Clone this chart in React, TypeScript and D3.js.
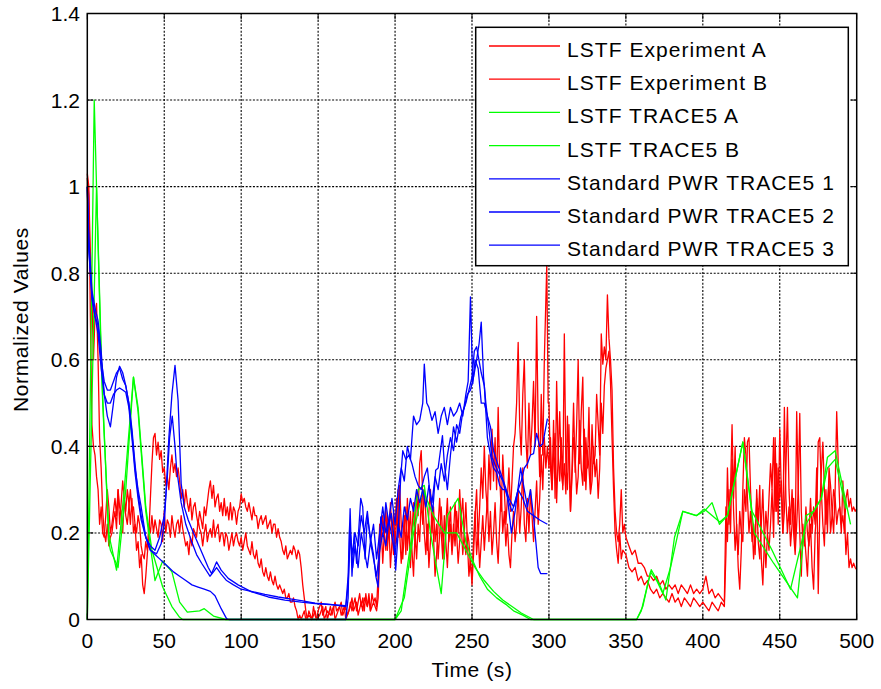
import React from "react";
import * as d3 from "d3";

const W = 881;
const H = 689;

const xTicks = [0, 50, 100, 150, 200, 250, 300, 350, 400, 450, 500];
const yTicks = [0, 0.2, 0.4, 0.6, 0.8, 1, 1.2, 1.4];
const yTickLabels = ["0", "0.2", "0.4", "0.6", "0.8", "1", "1.2", "1.4"];
const seriesNames = [
  "LSTF Experiment A",
  "LSTF Experiment B",
  "LSTF TRACE5 A",
  "LSTF TRACE5 B",
  "Standard PWR TRACE5 1",
  "Standard PWR TRACE5 2",
  "Standard PWR TRACE5 3",
];
const seriesColors = ["#ff0000", "#ff0000", "#00ff00", "#00ff00", "#0000ff", "#0000ff", "#0000ff"];

type P = [number, number];

const expA: P[] = [
  [0,1.03],[1,1.0],[2,0.7],[3,0.45],[4,0.4],[5,0.38],[6,0.33],[7,0.3],[8,0.22],[9,0.26],[10,0.2],[11,0.19],[12,0.24],[13,0.3],[14,0.26],[15,0.2],[16,0.22],[17,0.25],[18,0.28],[19,0.24],[20,0.3],[21,0.22],[22,0.27],[23,0.32],[24,0.28],[25,0.25],[26,0.3],[27,0.27],[28,0.22],[29,0.28],[30,0.2],[31,0.22],[32,0.16],[33,0.18],[34,0.12],[35,0.15],[36,0.08],[37,0.06],[38,0.1],[39,0.15],[40,0.2],[41,0.28],[42,0.36],[43,0.42],[44,0.43],[45,0.38],[46,0.41],[47,0.37],[48,0.39],[49,0.34],[50,0.35],[51,0.31],[52,0.33],[53,0.3],[54,0.35],[55,0.38],[56,0.34],[57,0.36],[58,0.33],[59,0.35],[60,0.32],[61,0.28],[62,0.3],[63,0.26],[64,0.3],[65,0.27],[66,0.25],[67,0.28],[68,0.23],[69,0.26],[70,0.27],[71,0.24],[72,0.22],[73,0.25],[74,0.23],[75,0.21],[76,0.26],[77,0.24],[78,0.27],[79,0.3],[80,0.32],[81,0.28],[82,0.31],[83,0.26],[84,0.28],[85,0.29],[86,0.25],[87,0.27],[88,0.24],[89,0.28],[90,0.24],[91,0.26],[92,0.23],[93,0.27],[94,0.23],[95,0.26],[96,0.25],[97,0.22],[98,0.25],[99,0.26],[100,0.29],[101,0.27],[102,0.28],[103,0.26],[104,0.25],[105,0.27],[106,0.25],[107,0.23],[108,0.26],[109,0.24],[110,0.24],[111,0.21],[112,0.23],[113,0.24],[114,0.22],[115,0.23],[116,0.24],[117,0.21],[118,0.22],[119,0.23],[120,0.2],[121,0.22],[122,0.22],[123,0.19],[124,0.21],[125,0.19],[126,0.18],[127,0.16],[128,0.15],[129,0.17],[130,0.14],[131,0.15],[132,0.16],[133,0.15],[134,0.17],[135,0.16],[136,0.14],[137,0.16],[138,0.15],[139,0.12],[140,0.08],[141,0.05],[142,0.02],[143,0.0],[144,0.02],[145,0.01],[146,0.0],[147,0.03],[148,0.01],[149,0.0],[150,0.02],[152,0.04],[153,0.01],[155,0.03],[156,0.0],[158,0.03],[159,0.01],[161,0.04],[162,0.02],[164,0.03],[165,0.01],[167,0.03],[168,0.0],[170,0.02],[171,0.04],[172,0.02],[174,0.05],[175,0.02],[176,0.04],[177,0.06],[178,0.03],[179,0.05],[180,0.02],[181,0.06],[182,0.03],[183,0.05],[184,0.02],[185,0.06],[186,0.04],[187,0.05],[188,0.03],[189,0.1],
  [190,0.22],[191,0.18],[192,0.24],[193,0.2],[194,0.16],[195,0.24],[196,0.19],[197,0.27],[198,0.2],[199,0.15],[200,0.22],[201,0.28],[202,0.19],[203,0.31],[204,0.22],[205,0.14],[206,0.2],[207,0.26],[208,0.16],[209,0.22],[210,0.12],[211,0.2],[212,0.27],[213,0.18],[214,0.3],[215,0.24],[216,0.36],[217,0.39],[218,0.28],[219,0.2],[220,0.15],[221,0.22],[222,0.12],[223,0.18],[224,0.25],[225,0.19],[226,0.1],[227,0.15],[228,0.22],[229,0.28],[230,0.2],[231,0.14],[232,0.24],[233,0.18],[234,0.12],[235,0.2],[236,0.26],[237,0.16],[238,0.22],[239,0.17],[240,0.25],[241,0.2],[242,0.3],[243,0.22],[244,0.15],[245,0.2],[246,0.27],[247,0.18],[248,0.1],[249,0.14],[250,0.08],[251,0.15],[252,0.24],[253,0.3],[254,0.18],[255,0.26],[256,0.35],[257,0.28],[258,0.4],[259,0.3],[260,0.25],[261,0.38],[262,0.3],[263,0.44],[264,0.32],[265,0.42],[266,0.3],[267,0.49],[268,0.33],[269,0.25],[270,0.38],[271,0.3],[272,0.22],[273,0.28],[274,0.35],[275,0.25],[276,0.32],[277,0.4],[278,0.43],[279,0.5],[280,0.64],[281,0.45],[282,0.38],[283,0.52],[284,0.6],[285,0.42],[286,0.35],[287,0.5],[288,0.38],[289,0.45],[290,0.55],[291,0.4],[292,0.7],[293,0.45],[294,0.33],[295,0.52],[296,0.38],[297,0.6],[298.6,0.82],[299.5,0.5],
  [300,0.5],[301,0.35],[302,0.3],[303,0.46],[304,0.28],[305,0.55],[306,0.38],[307,0.32],[308,0.42],[309,0.3],[310,0.66],[311,0.36],[312,0.3],[313,0.45],[314,0.25],[315,0.35],[316,0.5],[317,0.34],[318,0.45],[319,0.6],[320,0.36],[321,0.48],[322,0.56],[323,0.32],[324,0.42],[325,0.35],[326,0.49],[327,0.3],[328,0.45],[329,0.36],[330,0.38],[331,0.52],[332,0.45],[333,0.38],[334,0.66],[335,0.59],[336,0.63],[337,0.6],[338,0.75],[339,0.65],[340,0.6],[341,0.53],[342,0.35],[343,0.25],[344,0.2],[345,0.18],[346,0.22],[347,0.3],[348,0.2],[349,0.22],[350,0.19],[352,0.17],[354,0.15],[356,0.16],[358,0.13],[360,0.13],[362,0.12],[364,0.1],[366,0.1],[368,0.09],[370,0.1],[372,0.08],[374,0.09],[376,0.07],[378,0.08],[380,0.07],[382,0.08],[384,0.06],[386,0.08],[388,0.07],[390,0.06],[392,0.08],[394,0.06],[396,0.07],[398,0.06],[400,0.07],[402,0.1],[404,0.06],[406,0.07],[408,0.05],[410,0.06],[412,0.05],[414,0.04],
  [415,0.26],[416,0.18],[417,0.3],[418,0.2],[419,0.37],[420,0.25],[421,0.16],[422,0.22],[423,0.12],[424,0.07],[425,0.16],[426,0.3],[427,0.42],[428,0.38],[429,0.28],[430,0.2],[431,0.25],[432,0.18],[433,0.22],[434,0.15],[435,0.3],[436,0.22],[437,0.31],[438,0.14],[439,0.08],[440,0.18],[441,0.25],[442,0.2],[443,0.28],[444,0.36],[445,0.3],[446,0.42],[447,0.25],[448,0.36],[449,0.22],[450,0.44],[451,0.3],[452,0.2],[453,0.49],[454,0.28],[455,0.2],[456,0.26],[457,0.17],[458,0.22],[459,0.28],[460,0.17],[461,0.48],[462,0.3],[463,0.2],[464,0.1],[465,0.22],[466,0.17],[467,0.26],[468,0.2],[469,0.17],[470,0.22],[471,0.12],[472,0.07],[473,0.2],[474,0.25],[475,0.41],[476,0.42],[477,0.3],[478,0.22],[479,0.17],[480,0.3],[481,0.2],[482,0.35],[483,0.31],[484,0.25],[485,0.2],[486,0.3],[487,0.48],[488,0.36],[489,0.26],[490,0.2],[491,0.32],[492,0.25],[493,0.15],[494,0.2],[495,0.12],[496,0.14],[497,0.12],[498,0.13],[499,0.12],[500,0.115],
];

const expB: P[] = [
  [0,1.02],[1,0.98],[2,0.85],[3,0.75],[4,0.6],[5,0.7],[6,0.73],[7,0.6],[8,0.42],[9,0.35],[10,0.25],[11,0.2],[12,0.18],[13,0.22],[14,0.17],[15,0.19],[16,0.2],[17,0.23],[18,0.25],[19,0.21],[20,0.3],[21,0.26],[22,0.25],[23,0.2],[24,0.28],[25,0.24],[26,0.22],[27,0.26],[28,0.3],[29,0.25],[30,0.26],[31,0.22],[32,0.2],[33,0.24],[34,0.22],[35,0.17],[36,0.15],[37,0.14],[38,0.18],[39,0.16],[40,0.22],[41,0.2],[42,0.24],[43,0.2],[44,0.23],[45,0.21],[46,0.19],[47,0.23],[48,0.22],[49,0.18],[50,0.25],[51,0.2],[52,0.23],[53,0.22],[54,0.19],[55,0.24],[56,0.21],[57,0.19],[58,0.22],[59,0.23],[60,0.2],[61,0.24],[62,0.21],[63,0.19],[64,0.17],[65,0.18],[66,0.15],[67,0.19],[68,0.17],[69,0.21],[70,0.2],[71,0.19],[72,0.23],[73,0.21],[74,0.2],[75,0.17],[76,0.2],[77,0.22],[78,0.18],[79,0.2],[80,0.21],[81,0.19],[82,0.23],[83,0.19],[84,0.21],[85,0.22],[86,0.18],[87,0.2],[88,0.2],[89,0.17],[90,0.2],[91,0.19],[92,0.16],[93,0.18],[94,0.2],[95,0.17],[96,0.19],[97,0.2],[98,0.18],[99,0.17],[100,0.19],[101,0.16],[102,0.18],[103,0.2],[104,0.17],[105,0.16],[106,0.15],[107,0.18],[108,0.15],[109,0.14],[110,0.16],[111,0.13],[112,0.12],[113,0.14],[114,0.11],[115,0.1],[116,0.12],[117,0.1],[118,0.09],[119,0.11],[120,0.09],[121,0.08],[122,0.1],[123,0.08],[124,0.07],[125,0.08],[126,0.07],[127,0.06],[128,0.07],[129,0.05],[130,0.05],[131,0.06],[132,0.04],[133,0.04],[134,0.05],[135,0.03],[136,0.02],[137,0.0],[138,0.01],[139,0.0],[141,0.02],[142,0.0],[144,0.01],[146,0.0],[148,0.02],[149,0.0],[151,0.01],[153,0.03],[154,0.0],[156,0.02],[158,0.01],[160,0.03],[161,0.0],[163,0.02],[165,0.04],[166,0.01],[168,0.03],[169,0.01],[171,0.03],[172,0.05],[173,0.02],[175,0.04],[176,0.01],[178,0.04],[179,0.02],[180,0.05],[182,0.03],[183,0.06],[184,0.02],[186,0.04],[187,0.03],[188,0.02],[189,0.05],
  [190,0.15],[191,0.22],[192,0.13],[193,0.2],[194,0.26],[195,0.16],[196,0.22],[197,0.12],[198,0.18],[199,0.25],[200,0.17],[201,0.23],[202,0.3],[203,0.2],[204,0.13],[205,0.18],[206,0.24],[207,0.15],[208,0.28],[209,0.2],[210,0.25],[211,0.16],[212,0.1],[213,0.2],[214,0.14],[215,0.22],[216,0.18],[217,0.28],[218,0.22],[219,0.3],[220,0.24],[221,0.16],[222,0.25],[223,0.3],[224,0.2],[225,0.26],[226,0.18],[227,0.22],[228,0.14],[229,0.2],[230,0.26],[231,0.19],[232,0.14],[233,0.22],[234,0.28],[235,0.18],[236,0.22],[237,0.15],[238,0.2],[239,0.27],[240,0.2],[241,0.13],[242,0.18],[243,0.24],[244,0.28],[245,0.19],[246,0.15],[247,0.2],[248,0.18],[249,0.12],[250,0.1],[251,0.18],[252,0.25],[253,0.15],[254,0.2],[255,0.12],[256,0.18],[257,0.24],[258,0.16],[259,0.22],[260,0.28],[261,0.18],[262,0.25],[263,0.15],[264,0.2],[265,0.27],[266,0.18],[267,0.13],[268,0.22],[269,0.3],[270,0.2],[271,0.25],[272,0.17],[273,0.22],[274,0.15],[275,0.12],[276,0.2],[277,0.25],[278,0.18],[279,0.22],[280,0.3],[281,0.2],[282,0.26],[283,0.35],[284,0.22],[285,0.18],[286,0.28],[287,0.2],[288,0.3],[289,0.24],[290,0.18],[291,0.25],[292,0.32],[293,0.22],[294,0.28],[295,0.38],[296,0.3],[297,0.42],[298,0.35],[299,0.4],
  [300,0.35],[301,0.42],[302,0.3],[303,0.38],[304,0.43],[305,0.27],[306,0.38],[307,0.48],[308,0.34],[309,0.31],[310,0.36],[311,0.29],[312,0.47],[313,0.36],[314,0.25],[315,0.33],[316,0.42],[317,0.38],[318,0.29],[319,0.33],[320,0.46],[321,0.35],[322,0.31],[323,0.44],[324,0.3],[325,0.39],[326,0.35],[327,0.29],[328,0.32],[329,0.4],[330,0.33],[331,0.37],[332,0.28],[333,0.35],[334,0.5],[335,0.43],[336,0.54],[337,0.58],[338,0.6],[339,0.62],[340,0.55],[341,0.42],[342,0.3],[343,0.2],[344,0.16],[345,0.13],[346,0.2],[347,0.14],[348,0.16],[350,0.15],[352,0.12],[354,0.11],[356,0.12],[358,0.09],[360,0.1],[362,0.08],[364,0.09],[366,0.07],[368,0.06],[370,0.07],[372,0.05],[374,0.06],[376,0.05],[378,0.04],[380,0.06],[382,0.04],[384,0.05],[386,0.03],[388,0.05],[390,0.04],[392,0.03],[394,0.05],[396,0.04],[398,0.03],[400,0.04],[402,0.03],[404,0.02],[406,0.04],[408,0.03],[410,0.02],[412,0.04],[414,0.03],
  [415,0.15],[416,0.35],[417,0.22],[418,0.3],[419,0.45],[420,0.28],[421,0.4],[422,0.2],[423,0.15],[424,0.25],[425,0.2],[426,0.18],[427,0.3],[428,0.25],[429,0.41],[430,0.42],[431,0.3],[432,0.22],[433,0.14],[434,0.2],[435,0.28],[436,0.18],[437,0.14],[438,0.22],[439,0.3],[440,0.18],[441,0.12],[442,0.2],[443,0.16],[444,0.22],[445,0.3],[446,0.19],[447,0.42],[448,0.25],[449,0.35],[450,0.28],[451,0.32],[452,0.2],[453,0.25],[454,0.35],[455,0.49],[456,0.3],[457,0.22],[458,0.3],[459,0.2],[460,0.15],[461,0.22],[462,0.3],[463,0.476],[464,0.25],[465,0.18],[466,0.2],[467,0.15],[468,0.1],[469,0.2],[470,0.28],[471,0.2],[472,0.26],[473,0.22],[474,0.35],[475,0.06],[476,0.25],[477,0.34],[478,0.41],[479,0.3],[480,0.22],[481,0.27],[482,0.32],[483,0.2],[484,0.24],[485,0.3],[486,0.28],[487,0.22],[488,0.25],[489,0.26],[490,0.22],[491,0.24],[492,0.2],[493,0.28],[494,0.3],[495,0.26],[496,0.28],[497,0.25],[498,0.26],[499,0.25],[500,0.256],
];

const traceA: P[] = [
  [0,0],[4.5,1.2],[9,0.6],[14,0.18],[15,0.16],[20,0.12],[25,0.3],[30,0.56],[33,0.48],[38,0.25],[44,0.09],[49,0.135],[55,0.11],[60,0.04],[65,0.017],[73,0.02],[76,0.025],[82,0.008],[90,0],[200,0],[204,0.02],[215,0.3],[219,0.31],[223,0.2],[230,0.06],[234,0.24],[241,0.28],[246,0.18],[250,0.14],[255,0.1],[260,0.07],[266,0.05],[272,0.035],[277,0.02],[283,0.01],[288,0],[357,0],[360,0.02],[366.5,0.115],[372,0.08],[376,0.045],[381.6,0.19],[387,0.25],[395.7,0.24],[401,0.25],[406,0.27],[410.8,0.22],[416,0.24],[426,0.41],[433.5,0.2],[446,0.13],[461.5,0.05],[467,0.24],[472,0.25],[477,0.28],[481,0.375],[486,0.39],[496,0.22],
];

const traceB: P[] = [
  [0,0],[6,1.0],[10,0.5],[14,0.2],[15,0.18],[19,0.114],[24,0.3],[30,0.56],[33,0.49],[38,0.26],[42,0.16],[49,0.075],[55,0.03],[60,0.005],[62,0],[200,0],[206,0.05],[212,0.2],[218,0.3],[225,0.24],[232,0.2],[240,0.2],[246,0.16],[252,0.12],[258,0.09],[264,0.065],[270,0.045],[276,0.03],[282,0.015],[290,0],[357,0],[361,0.03],[366,0.11],[370,0.09],[374,0.06],[379,0.12],[387,0.25],[396,0.24],[401,0.255],[406,0.24],[411,0.225],[416,0.24],[426,0.41],[432,0.25],[445,0.16],[457,0.07],[467,0.22],[472,0.25],[477,0.28],[481,0.35],[486,0.37],[493,0.256],
];

const pwr1: P[] = [
  [0,1.0],[1,0.85],[3,0.75],[5,0.7],[7,0.68],[9,0.6],[11,0.55],[13,0.53],[15,0.53],[17,0.55],[19,0.57],[21,0.58],[23,0.555],[25,0.54],[27,0.5],[29,0.44],[31,0.36],[33,0.29],[35,0.24],[38,0.19],[41,0.16],[44,0.15],[47,0.14],[50,0.13],[53,0.12],[56,0.11],[60,0.1],[64,0.09],[68,0.08],[72,0.075],[76,0.07],[80,0.065],[83,0.055],[87,0.025],[90.5,0.002],[92,0],[168,0],
  [169.5,0.05],[170.5,0.22],[172,0.15],[174,0.2],[176,0.17],[178,0.24],[180,0.2],[182,0.25],[184,0.18],[186,0.22],[188,0.14],[190,0.2],[192,0.26],[194,0.2],[196,0.23],[198,0.28],[200,0.22],[202,0.3],[204,0.35],[206,0.32],[208,0.4],[210,0.37],[212,0.47],[214,0.45],[216,0.46],[218,0.5],[219,0.59],[220.6,0.5],[222,0.49],[224,0.46],[226,0.48],[228,0.43],[230,0.47],[232,0.49],[234,0.45],[236,0.49],[238,0.47],[240,0.48],[242,0.5],[244,0.47],[246,0.52],[247.5,0.55],[249,0.745],[250.5,0.545],[252,0.6],[254,0.58],[256,0.5],[258,0.5],[260,0.47],[262,0.445],[264,0.39],[267.5,0.35],[271,0.314],[274,0.28],[277,0.26],[280,0.3],[283,0.28],[286,0.25],[290,0.24],[294,0.23],[299,0.22],
];

const pwr2: P[] = [
  [0,1.0],[1,0.88],[3,0.76],[5,0.72],[7,0.69],[9,0.62],[11,0.52],[13,0.47],[15,0.445],[17,0.5],[19,0.56],[21,0.585],[23,0.57],[25,0.54],[27,0.5],[29,0.43],[31,0.35],[33,0.3],[35,0.26],[38,0.19],[41,0.16],[45,0.152],[48,0.175],[50,0.22],[51.5,0.314],[53,0.42],[55,0.52],[57,0.587],[59,0.506],[61,0.314],[63,0.26],[65.6,0.23],[69,0.2],[72,0.175],[75,0.15],[78.6,0.12],[80.8,0.106],[84,0.133],[87,0.114],[91.6,0.095],[98,0.08],[106.8,0.064],[117.6,0.052],[128.4,0.045],[139,0.04],[148,0.037],[160,0.034],[168,0.032],
  [169.5,0.1],[170.8,0.256],[172,0.1],[173.5,0.2],[175,0.13],[177.7,0.28],[179,0.26],[180.5,0.14],[182,0.237],[184,0.19],[186,0.15],[187.5,0.1],[189,0.075],[190.7,0.237],[192.5,0.2],[194,0.27],[196,0.22],[197.5,0.245],[199,0.2],[200.4,0.114],[202,0.2],[203.7,0.33],[205,0.39],[207,0.37],[209,0.38],[211,0.36],[213,0.33],[215,0.31],[217,0.3],[219,0.33],[221,0.35],[223,0.28],[224.5,0.25],[226.4,0.345],[228,0.35],[230.8,0.425],[232,0.36],[234,0.3],[236,0.38],[238,0.445],[240,0.41],[242.7,0.468],[245,0.49],[247,0.52],[249,0.53],[251,0.56],[253,0.6],[254.6,0.637],[256,0.687],[257.5,0.56],[259,0.5],[261,0.44],[263,0.375],[266.5,0.345],[270,0.32],[273,0.283],[275.6,0.2],[278,0.25],[281.6,0.35],[284,0.3],[286,0.26],[288,0.3],[290,0.237],[293,0.12],[294.6,0.106],[299,0.106],
];

const pwr3: P[] = [
  [0,1.0],[1,0.86],[3,0.74],[5,0.7],[7,0.66],[9,0.58],[11,0.52],[13,0.5],[15,0.5],[17,0.52],[19,0.53],[21,0.535],[23,0.53],[25,0.525],[27,0.49],[29,0.42],[31,0.34],[33,0.28],[35,0.23],[38,0.19],[41,0.17],[44,0.16],[47,0.19],[50,0.24],[52,0.33],[53.5,0.42],[55.2,0.47],[57,0.4],[58,0.35],[61,0.27],[64,0.22],[67.8,0.18],[71,0.15],[74.3,0.13],[79.7,0.1],[82,0.11],[84,0.12],[87,0.105],[90.5,0.09],[95,0.08],[100,0.07],[108,0.064],[115.4,0.058],[124,0.052],[132.8,0.047],[140,0.043],[148,0.038],[158,0.035],[168,0.03],
  [169.5,0.08],[171,0.2],[172.5,0.12],[174,0.17],[176,0.12],[178,0.2],[180,0.16],[182,0.12],[184,0.18],[186,0.14],[188,0.1],[190,0.16],[192,0.2],[194,0.17],[196,0.23],[198,0.19],[200,0.15],[202,0.22],[204,0.19],[206,0.26],[208,0.23],[210,0.28],[212,0.25],[214,0.3],[216,0.27],[218,0.3],[220,0.26],[222,0.31],[224,0.27],[226,0.33],[228,0.3],[230,0.36],[232,0.32],[234,0.38],[236,0.42],[238,0.39],[240,0.45],[242,0.43],[244,0.48],[246,0.5],[248,0.53],[250,0.56],[251.5,0.62],[253,0.63],[254.5,0.6],[256,0.57],[258,0.54],[260,0.42],[262,0.38],[264,0.35],[266,0.34],[268,0.31],[270,0.3],[272,0.3],[274,0.27],[276,0.25],[278,0.27],[280,0.3],[282,0.32],[284,0.35],[286,0.36],[288,0.38],[290,0.383],[292,0.43],[294,0.4],[296,0.406],[299,0.464],
];

const allSeries: P[][] = [expA, expB, traceA, traceB, pwr1, pwr2, pwr3];

const FONT = "'Liberation Sans', Arial, Helvetica, sans-serif";

export default function App() {
  const x0 = 87.3, x1 = 856.7, y0 = 619.5, y1 = 13.5;
  const x = d3.scaleLinear().domain([0, 500]).range([x0, x1]);
  const y = d3.scaleLinear().domain([0, 1.4]).range([y0, y1]);
  const line = d3.line<P>().x((d) => x(d[0])).y((d) => y(d[1]));

  const legX0 = 475.7, legY0 = 27.3, legX1 = 848.3, legY1 = 265.7;
  const rowY = (i: number) => 46 + i * 33.2;

  return (
    <svg width={W} height={H} style={{ position: "absolute", left: 0, top: 0, background: "#fff" }}>
      <rect x={0} y={0} width={W} height={H} fill="#fff" />
      {/* grid */}
      <g stroke="#000" strokeWidth={1.1} strokeDasharray="2,1.6" fill="none">
        {xTicks.slice(1, -1).map((t) => (
          <line key={"gx" + t} x1={x(t)} x2={x(t)} y1={y0} y2={y1} />
        ))}
        {yTicks.slice(1, -1).map((t) => (
          <line key={"gy" + t} x1={x0} x2={x1} y1={y(t)} y2={y(t)} />
        ))}
      </g>
      {/* series */}
      <g fill="none" strokeWidth={1.3} strokeLinejoin="round">
        {allSeries.map((s, i) => (
          <path key={"s" + i} d={line(s) || ""} stroke={seriesColors[i]} />
        ))}
      </g>
      {/* frame & ticks */}
      <rect x={x0} y={y1} width={x1 - x0} height={y0 - y1} fill="none" stroke="#000" strokeWidth={1.5} />
      <g stroke="#000" strokeWidth={1}>
        {xTicks.map((t) => (
          <g key={"tx" + t}>
            <line x1={x(t)} x2={x(t)} y1={y0} y2={y0 - 6} />
            <line x1={x(t)} x2={x(t)} y1={y1} y2={y1 + 6} />
          </g>
        ))}
        {yTicks.map((t) => (
          <g key={"ty" + t}>
            <line x1={x0} x2={x0 + 6} y1={y(t)} y2={y(t)} />
            <line x1={x1} x2={x1 - 6} y1={y(t)} y2={y(t)} />
          </g>
        ))}
      </g>
      <g fontFamily={FONT} fontSize={21} fill="#000">
        {xTicks.map((t) => (
          <text key={"lx" + t} x={x(t)} y={648} textAnchor="middle">{t}</text>
        ))}
        {yTicks.map((t, i) => (
          <text key={"ly" + t} x={80} y={y(t) + 7.5} textAnchor="end">{yTickLabels[i]}</text>
        ))}
        <text x={(x0 + x1) / 2} y={677} textAnchor="middle" letterSpacing={0.6}>Time (s)</text>
        <text transform={`translate(28,${(y0 + y1) / 2 + 3}) rotate(-90)`} textAnchor="middle" letterSpacing={0.6}>Normalized Values</text>
      </g>
      {/* legend */}
      <rect x={legX0} y={legY0} width={legX1 - legX0} height={legY1 - legY0} fill="#fff" stroke="#000" strokeWidth={1.5} />
      <g fontFamily={FONT} fontSize={21} fill="#000">
        {seriesNames.map((n, i) => (
          <g key={"lg" + i}>
            <line x1={489} x2={560} y1={rowY(i)} y2={rowY(i)} stroke={seriesColors[i]} strokeWidth={1.3} />
            <text x={567} y={rowY(i) + 11} letterSpacing={1.05}>{n}</text>
          </g>
        ))}
      </g>
    </svg>
  );
}
